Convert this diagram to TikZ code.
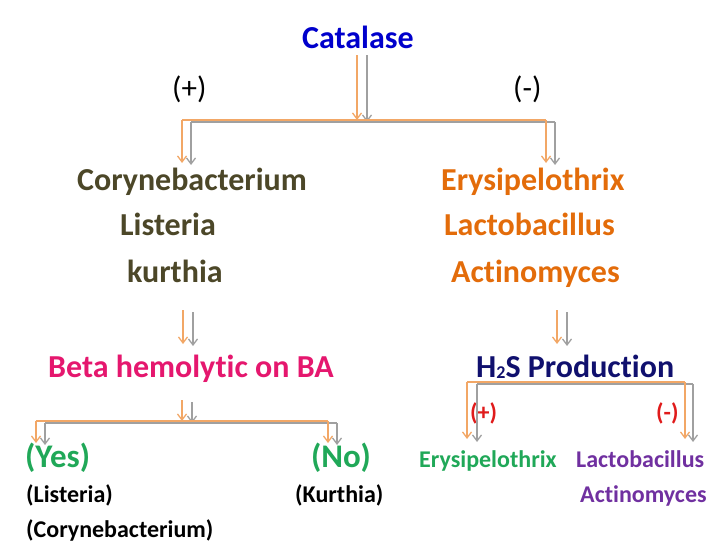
\documentclass[tikz,border=0pt]{standalone}
\usepackage{fontspec}
\setmainfont{Carlito}[Ligatures=NoCommon]
\usetikzlibrary{arrows.meta}
\definecolor{catblue}{HTML}{0000CC}
\definecolor{olivetxt}{HTML}{4C4728}
\definecolor{orangetxt}{HTML}{E36C0A}
\definecolor{pinktxt}{HTML}{E5176E}
\definecolor{navytxt}{HTML}{10106E}
\definecolor{greentxt}{HTML}{20A858}
\definecolor{purpletxt}{HTML}{7030A0}
\definecolor{redtxt}{HTML}{E01B1B}
\definecolor{oline}{HTML}{F2A766}
\definecolor{gline}{HTML}{A0A0A0}
\tikzset{
  lbl/.style={anchor=base west, inner sep=0pt, font=\bfseries\fontsize{32}{32}\selectfont},
  yn/.style={anchor=base west, inner sep=0pt, font=\bfseries\fontsize{33}{33}\selectfont},
  sign/.style={anchor=base west, inner sep=0pt, font=\fontsize{31}{31}\selectfont},
  small/.style={anchor=base west, inner sep=0pt, font=\bfseries\fontsize{24}{24}\selectfont},
  mid/.style={anchor=base west, inner sep=0pt, font=\bfseries\fontsize{24}{24}\selectfont},
  ol/.style={draw=oline, line width=1.8pt},
  gl/.style={draw=gline, line width=1.8pt},
  oarr/.style={ol, -{Straight Barb[length=6pt,width=9pt,line width=1.3pt]}},
  garr/.style={gl, -{Straight Barb[length=6pt,width=9pt,line width=1.3pt]}}
}
\begin{document}
\begin{tikzpicture}[x=1pt,y=-1pt]
\useasboundingbox (0,0) rectangle (728,546);
% texts
\node[lbl, text=catblue] (cat) at (302,48) {Catalase};
\node[sign] (plus) at (172,98) {(+)};
\node[sign] (minus) at (513,98) {(-)};
\node[lbl, text=olivetxt] (cory) at (77,190) {Corynebacterium};
\node[lbl, text=olivetxt] (list) at (120,235) {Listeria};
\node[lbl, text=olivetxt] (kurt) at (127,282) {kurthia};
\node[lbl, text=orangetxt] (erys) at (441,190) {Erysipelothrix};
\node[lbl, text=orangetxt] (lact) at (444,235) {Lactobacillus};
\node[lbl, text=orangetxt] (acti) at (451,282) {Actinomyces};
\node[lbl, text=pinktxt] (beta) at (48,377) {Beta hemolytic on BA};
\node[lbl, text=navytxt] (hs) at (476,377) {H\raisebox{-1pt}{\fontsize{18}{18}\selectfont 2}S Production};
\node[mid, text=redtxt] (hplus) at (470,420) {(+)};
\node[mid, text=redtxt] (hminus) at (656,420) {(-)};
\node[yn, text=greentxt] (yes) at (25,467) {(Yes)};
\node[yn, text=greentxt] (no) at (311,467) {(No)};
\node[mid, text=greentxt] (erys2) at (419,467) {Erysipelothrix};
\node[mid, text=purpletxt] (lact2) at (576,467) {Lactobacillus};
\node[small] (list2) at (26,502) {(Listeria)};
\node[small] (kurt2) at (295,502) {(Kurthia)};
\node[mid, text=purpletxt] (acti2) at (580,502) {Actinomyces};
\node[small] (cory2) at (26,537) {(Corynebacterium)};
% junction coordinates
\coordinate (c1o) at (357,55);  \coordinate (c1g) at (367,55);
\coordinate (j1o) at (357,120); \coordinate (j1g) at (367,122);
\coordinate (l1o) at (182,120); \coordinate (l1g) at (191,122);
\coordinate (r1o) at (546,120); \coordinate (r1g) at (555,122);
\coordinate (l1oe) at (182,163); \coordinate (l1ge) at (191,165);
\coordinate (r1oe) at (546,163); \coordinate (r1ge) at (555,165);
% catalase split
\draw[gl] (l1g) -- (r1g);
\draw[garr] (r1g) -- (r1ge);
\draw[garr] (l1g) -- (l1ge);
\draw[garr] (c1g) -- (j1g);
\draw[ol] (l1o) -- (r1o);
\draw[oarr] (l1o) -- (l1oe);
\draw[oarr] (r1o) -- (r1oe);
\draw[oarr] (c1o) -- (j1o);
% groups to next tests
\coordinate (g1o) at (183,310); \coordinate (g1g) at (193,312);
\coordinate (g1oe) at (183,344); \coordinate (g1ge) at (193,346);
\coordinate (g2o) at (557,310); \coordinate (g2g) at (567,312);
\coordinate (g2oe) at (557,344); \coordinate (g2ge) at (567,346);
\draw[garr] (g1g) -- (g1ge);
\draw[oarr] (g1o) -- (g1oe);
\draw[garr] (g2g) -- (g2ge);
\draw[oarr] (g2o) -- (g2oe);
% beta split
\coordinate (b0o) at (182,400); \coordinate (b0g) at (192,402);
\coordinate (bjo) at (182,421); \coordinate (bjg) at (192,423);
\coordinate (blo) at (36,421);  \coordinate (blg) at (45,423);
\coordinate (bro) at (328,421); \coordinate (brg) at (337,423);
\coordinate (bloe) at (36,443); \coordinate (blge) at (45,445);
\coordinate (broe) at (328,443); \coordinate (brge) at (337,445);
\draw[gl] (blg) -- (brg);
\draw[garr] (blg) -- (blge);
\draw[garr] (brg) -- (brge);
\draw[garr] (b0g) -- (bjg);
\draw[ol] (blo) -- (bro);
\draw[oarr] (blo) -- (bloe);
\draw[oarr] (bro) -- (broe);
\draw[oarr] (b0o) -- (bjo);
% H2S split
\coordinate (hlo) at (467,382); \coordinate (hlg) at (477,384);
\coordinate (hro) at (685,382); \coordinate (hrg) at (693,384);
\coordinate (hloe) at (467,439); \coordinate (hlge) at (477,442);
\coordinate (hroe) at (685,439); \coordinate (hrge) at (693,442);
\draw[gl] (hlg) -- (hrg);
\draw[garr] (hlg) -- (hlge);
\draw[garr] (hrg) -- (hrge);
\draw[ol] (hlo) -- (hro);
\draw[oarr] (hlo) -- (hloe);
\draw[oarr] (hro) -- (hroe);
\end{tikzpicture}
\end{document}
